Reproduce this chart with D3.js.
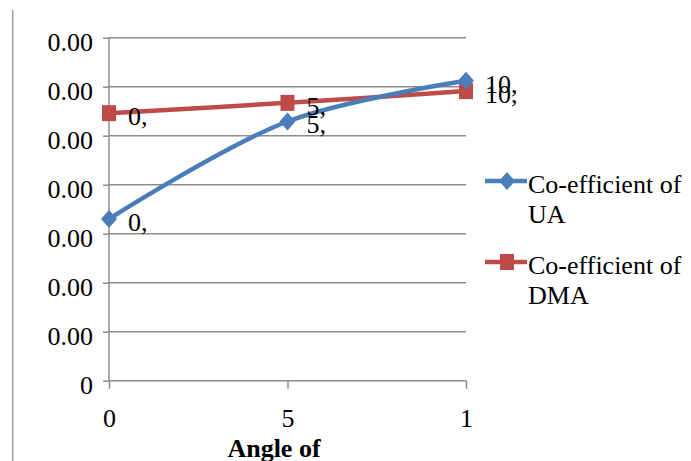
<!DOCTYPE html>
<html><head><meta charset="utf-8">
<script src="https://cdn.jsdelivr.net/npm/d3@7"></script>
<style>body{margin:0;background:#fff}svg{display:block}text{font-family:"Liberation Serif","Times New Roman",serif;fill:#000}</style>
</head><body>
<svg id="c" width="691" height="461"></svg>
<script>
const categories = ["0", "5", "10"];
const xTickLabels = ["0", "5", "1"];
const dataLabels = ["0,", "5,", "10,"];
const uaValues = [0.00066, 0.001058, 0.001224];
const dmaValues = [0.001092, 0.001134, 0.001182];
const yTicks = [0, 0.0002, 0.0004, 0.0006, 0.0008, 0.001, 0.0012, 0.0014];
const seriesNames = [["Co-efficient of", "UA"], ["Co-efficient of", "DMA"]];
const xTitle = "Angle of";

const svg = d3.select("#c");
const x = d3.scalePoint().domain(categories).range([109, 466]);
const y = d3.scaleLinear().domain([0, 0.0014]).range([380.7, 37.7]);
const grid = "#8c8c8c";
const fs = 26;
const ff = "Liberation Serif";

svg.append("line").attr("x1", 12.7).attr("x2", 12.7).attr("y1", 10).attr("y2", 461)
  .attr("stroke", "#a0a0a0").attr("stroke-width", 1.5);

svg.append("g").selectAll("line").data(yTicks.slice(1)).join("line")
  .attr("x1", 109).attr("x2", 466).attr("y1", d => y(d)).attr("y2", d => y(d))
  .attr("stroke", grid).attr("stroke-width", 1.5);

const yAxis = d3.axisLeft(y).tickValues(yTicks).tickSize(6).tickPadding(10)
  .tickFormat(d => d === 0 ? "0" : d3.format(".2f")(d));
const gy = svg.append("g").attr("transform", "translate(109,0)").call(yAxis);
gy.attr("font-family", ff);
gy.select(".domain").attr("stroke", grid).attr("stroke-width", 1.5).attr("d", `M0,${y(0.0014)}V${y(0)}`);
gy.selectAll(".tick line").attr("stroke", grid).attr("stroke-width", 1.5);
gy.selectAll(".tick text").attr("font-size", fs).attr("font-family", ff).attr("dy", null).attr("y", 0)
  .attr("transform", "translate(0,12.5)");

const xAxis = d3.axisBottom(x).tickSize(8).tickPadding(0).tickFormat((d, i) => xTickLabels[i]);
const gx = svg.append("g").attr("transform", `translate(0,${y(0)})`).call(xAxis);
gx.attr("font-family", ff);
gx.select(".domain").attr("stroke", grid).attr("stroke-width", 1.5).attr("d", `M109,0H466`);
gx.selectAll(".tick line").attr("stroke", grid).attr("stroke-width", 1.5);
gx.selectAll(".tick text").attr("font-size", fs).attr("font-family", ff).attr("dy", null).attr("y", 46);

svg.append("text").attr("x", 274).attr("y", 457).attr("text-anchor", "middle").attr("font-family", ff)
  .attr("font-size", fs).attr("font-weight", "bold").text(xTitle);

const line = d3.line().x((d, i) => x(categories[i])).y(d => y(d)).curve(d3.curveCatmullRom.alpha(0.5));
const blue = "#4a7ebb", red = "#be4b48";

function drawSeries(vals, color, shape) {
  svg.append("path").datum(vals).attr("d", line).attr("fill", "none")
    .attr("stroke", color).attr("stroke-width", 4.5);
  const g = svg.append("g");
  vals.forEach((v, i) => {
    const cx = x(categories[i]), cy = y(v);
    if (shape === "diamond") {
      g.append("path").attr("d", `M${cx},${cy - 9}L${cx + 8},${cy}L${cx},${cy + 9}L${cx - 8},${cy}Z`).attr("fill", color);
    } else {
      g.append("rect").attr("x", cx - 7).attr("y", cy - 8).attr("width", 14).attr("height", 16).attr("fill", color);
    }
  });
}
drawSeries(dmaValues, red, "square");
drawSeries(uaValues, blue, "diamond");

[uaValues, dmaValues].forEach(vals => {
  svg.append("g").selectAll("text").data(vals).join("text")
    .attr("x", (d, i) => x(categories[i]) + 19).attr("y", d => y(d) + 12).attr("font-family", ff)
    .attr("font-size", fs).text((d, i) => dataLabels[i]);
});

const leg = [{c: blue, s: "diamond", y: 181}, {c: red, s: "square", y: 262}];
leg.forEach((l, k) => {
  svg.append("line").attr("x1", 485).attr("x2", 527).attr("y1", l.y).attr("y2", l.y)
    .attr("stroke", l.c).attr("stroke-width", 4.5);
  if (l.s === "diamond") {
    svg.append("path").attr("d", `M507,${l.y - 9}L515,${l.y}L507,${l.y + 9}L499,${l.y}Z`).attr("fill", l.c);
  } else {
    svg.append("rect").attr("x", 500).attr("y", l.y - 8).attr("width", 14).attr("height", 16).attr("fill", l.c);
  }
  const t = svg.append("text").attr("x", 528).attr("y", l.y + 12).attr("font-size", fs).attr("font-family", ff);
  t.append("tspan").attr("x", 528).text(seriesNames[k][0]);
  t.append("tspan").attr("x", 528).attr("dy", 30).text(seriesNames[k][1]);
});
</script>
</body></html>
